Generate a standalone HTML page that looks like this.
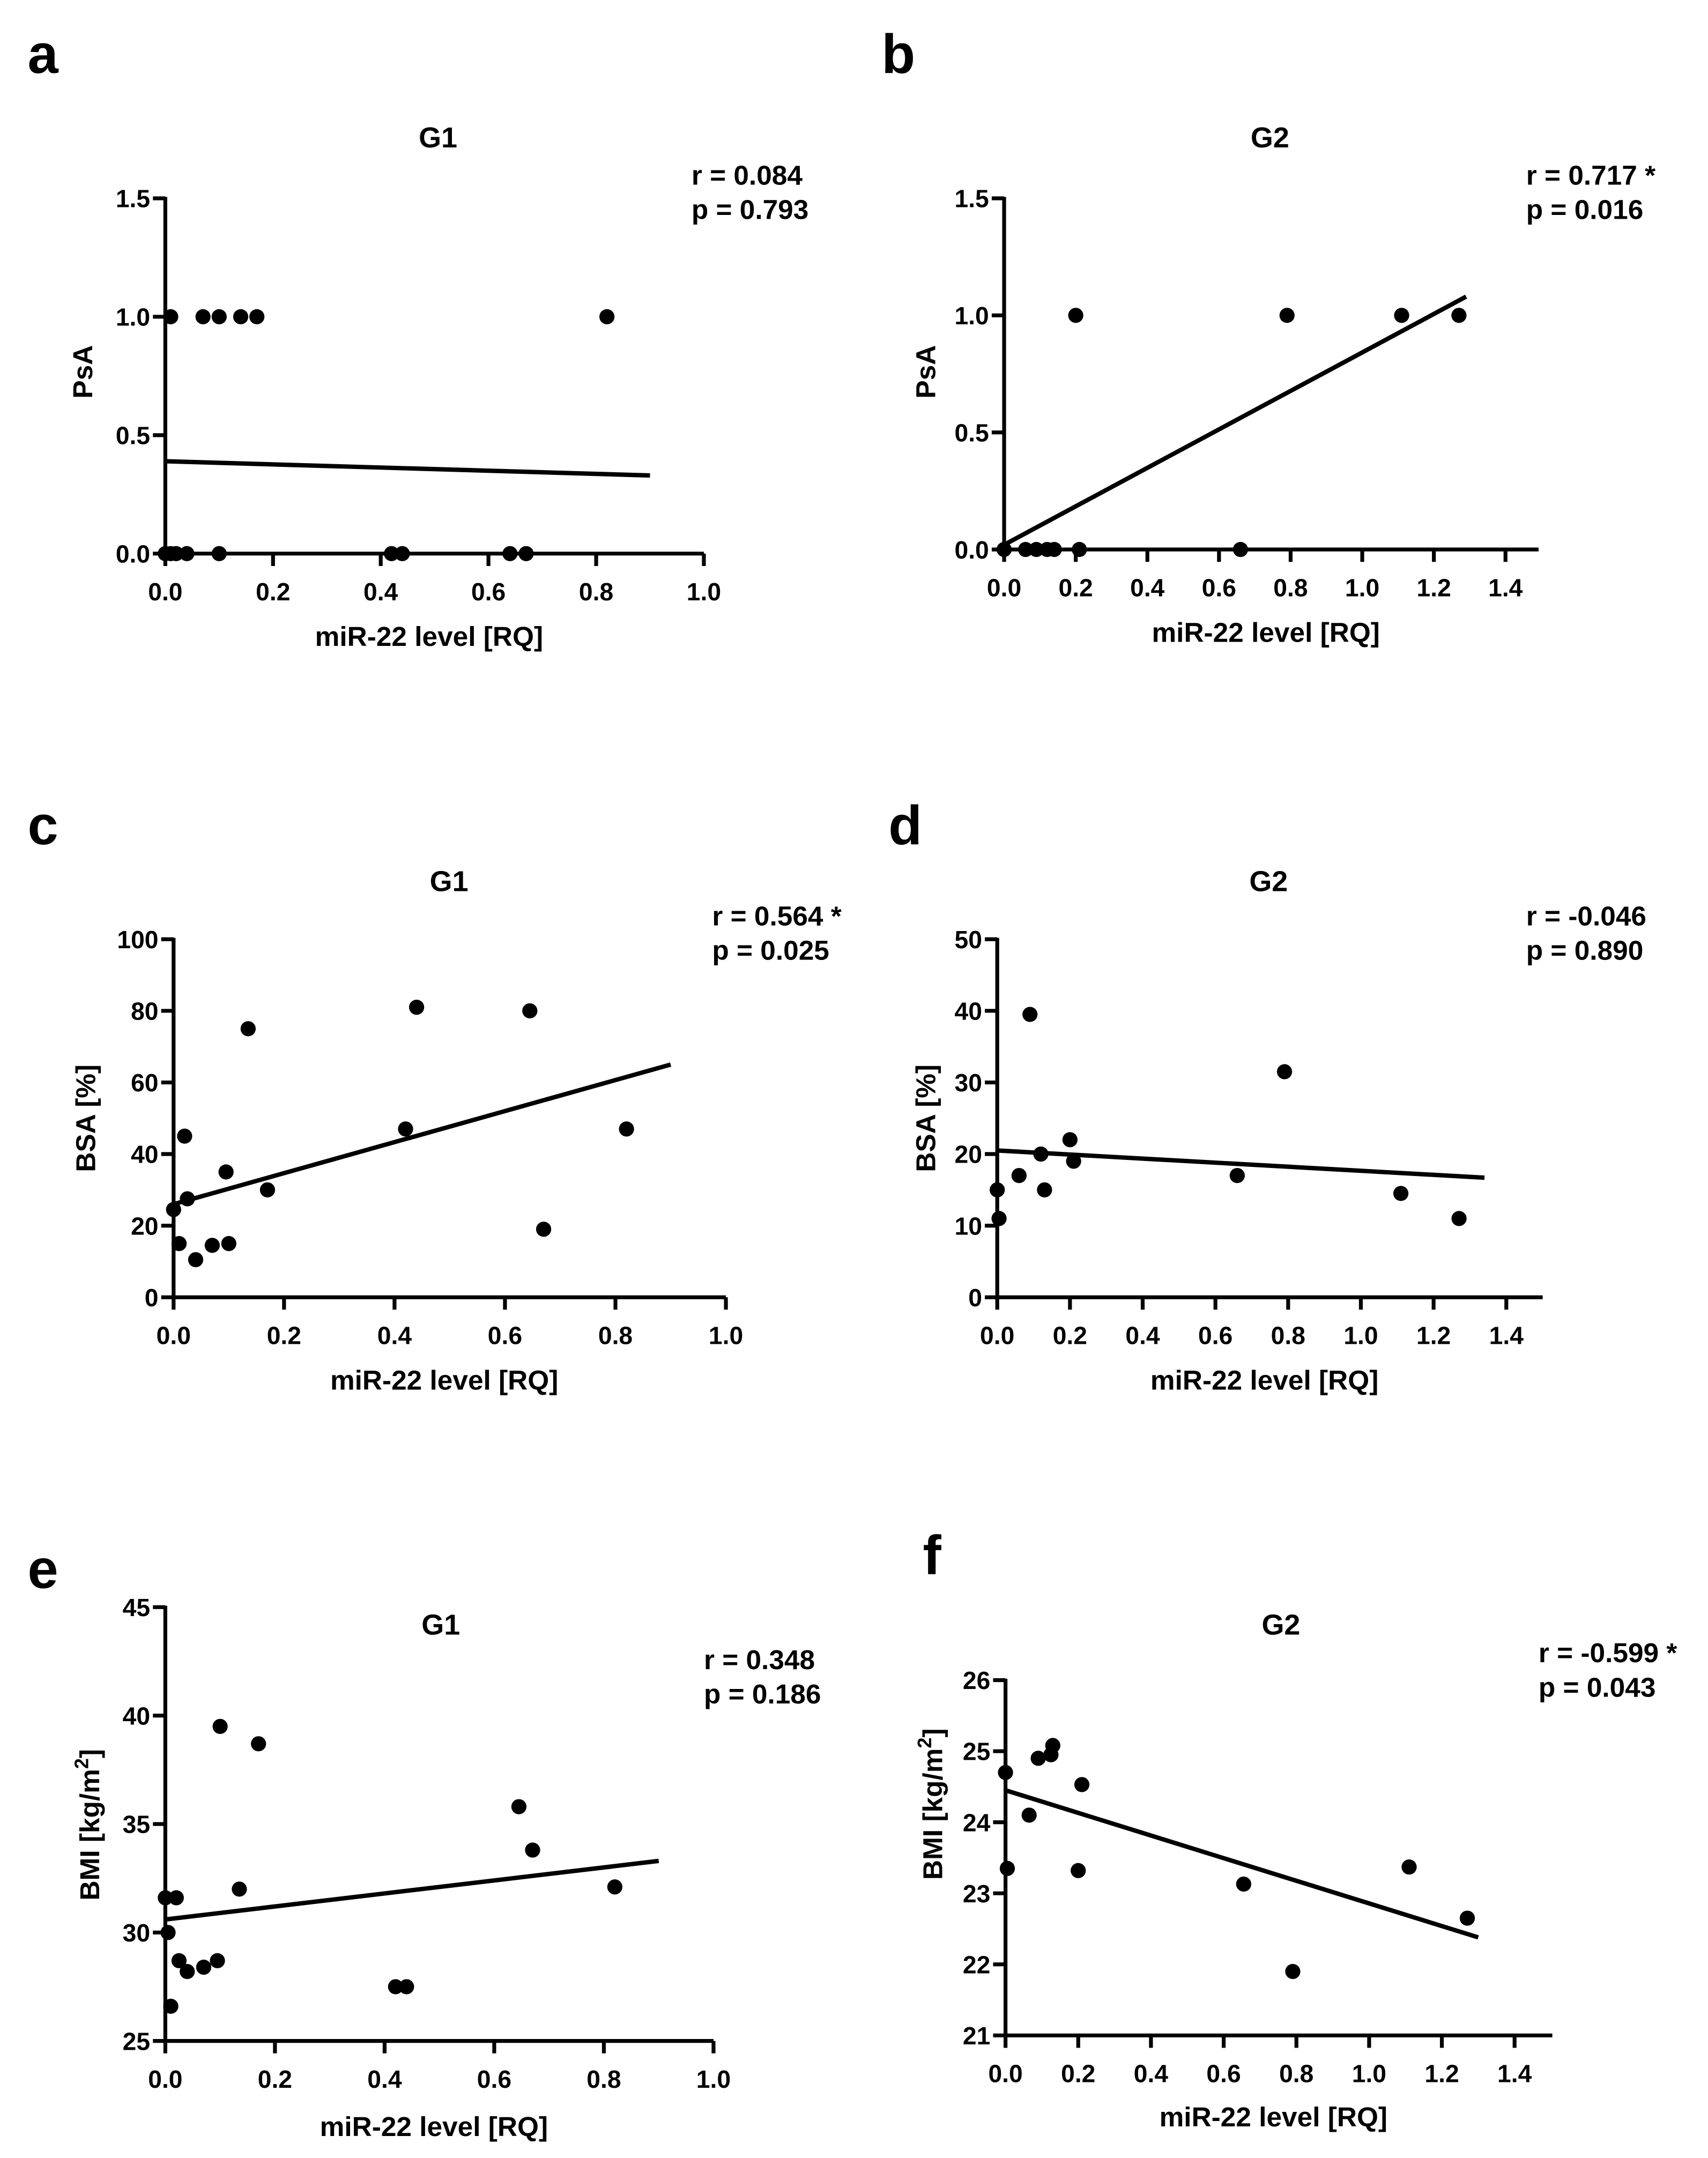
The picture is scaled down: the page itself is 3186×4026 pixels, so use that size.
<!DOCTYPE html>
<html><head><meta charset="utf-8"><style>
html,body{margin:0;padding:0;background:#fff}
svg{display:block}
text{font-family:"Liberation Sans",Arial,sans-serif;font-weight:bold;fill:#000}
</style></head><body>
<svg id="fig" width="3186" height="4026" viewBox="0 0 1240 1567" xmlns="http://www.w3.org/2000/svg"></svg>
<script>
// ---- data ----
const aX=[0.01,0.07,0.1,0.14,0.17,0.82,0.0,0.01,0.02,0.04,0.1,0.42,0.44,0.64,0.67];
const aY=[1,1,1,1,1,1,0,0,0,0,0,0,0,0,0];
const aFit=[0.39,0.33];
const bX=[0.2,0.79,1.11,1.27,0.0,0.06,0.09,0.12,0.14,0.21,0.66];
const bY=[1,1,1,1,0,0,0,0,0,0,0];
const bFit=[0.02,1.08];
const cX=[0.0,0.01,0.02,0.025,0.04,0.07,0.095,0.1,0.135,0.17,0.42,0.44,0.645,0.67,0.82];
const cY=[24.5,15,45,27.5,10.5,14.5,35,15,75,30,47,81,80,19,47];
const cFit=[26,65];
const dX=[0.0,0.005,0.06,0.09,0.12,0.13,0.2,0.21,0.66,0.79,1.11,1.27];
const dY=[15,11,17,39.5,20,15,22,19,17,31.5,14.5,11];
const dFit=[20.5,16.7];
const eX=[0.0,0.005,0.01,0.02,0.025,0.04,0.07,0.095,0.1,0.135,0.17,0.42,0.44,0.645,0.67,0.82];
const eY=[31.6,30,26.6,31.6,28.7,28.2,28.4,28.7,39.5,32,38.7,27.5,27.5,35.8,33.8,32.1];
const eFit=[30.6,33.3];
const fX=[0.0,0.005,0.065,0.09,0.125,0.13,0.2,0.21,0.655,0.79,1.11,1.27];
const fY=[24.7,23.35,24.1,24.9,24.95,25.08,23.32,24.53,23.13,21.9,23.37,22.65];
const fFit=[24.45,22.38];
const ticks1=["0.0","0.2","0.4","0.6","0.8","1.0"];
const ticks14=["0.0","0.2","0.4","0.6","0.8","1.0","1.2","1.4"];
const psaTicks=["0.0","0.5","1.0","1.5"];
const bsaC=["0","20","40","60","80","100"];
const bsaD=["0","10","20","30","40","50"];
const bmiE=["25","30","35","40","45"];
const bmiF=["21","22","23","24","25","26"];

const NS="http://www.w3.org/2000/svg";
const svg=document.getElementById('fig');
function el(tag,attrs,parent,txt){const e=document.createElementNS(NS,tag);for(const k in attrs)e.setAttribute(k,attrs[k]);if(txt!=null)e.textContent=txt;(parent||svg).appendChild(e);return e;}

const panels=[
 {id:'a',letter:[20,53],title:'G1',tpos:[318,107],rp:['r = 0.084','p = 0.793'],rx:502,ry:134,ax:120,y0:402,y1:144,ymin:0,ymax:1.5,yt:psaTicks,xe:511,xmax:1.0,xt:ticks1,xs:391,X:aX,Y:aY,fit:aFit,fitEnd:0.9,ylab:'PsA',ylx:60,yly:270,xty:469},
 {id:'b',letter:[640,53],title:'G2',tpos:[922,107],rp:['r = 0.717 *','p = 0.016'],rx:1108,ry:134,ax:729,y0:399,y1:144,ymin:0,ymax:1.5,yt:psaTicks,xe:1117,xmax:1.5,xt:ticks14,xs:260,X:bX,Y:bY,fit:bFit,fitEnd:1.29,ylab:'PsA',ylx:672,yly:270,xty:466},
 {id:'c',letter:[20,613],title:'G1',tpos:[326,647],rp:['r = 0.564 *','p = 0.025'],rx:517,ry:672,ax:126,y0:942,y1:682,ymin:0,ymax:100,yt:bsaC,xe:527,xmax:1.0,xt:ticks1,xs:401,X:cX,Y:cY,fit:cFit,fitEnd:0.9,ylab:'BSA [%]',ylx:62,yly:812,xty:1009},
 {id:'d',letter:[645,613],title:'G2',tpos:[921,647],rp:['r = -0.046','p = 0.890'],rx:1108,ry:672,ax:724,y0:942,y1:682,ymin:0,ymax:50,yt:bsaD,xe:1120,xmax:1.5,xt:ticks14,xs:264,X:dX,Y:dY,fit:dFit,fitEnd:1.34,ylab:'BSA [%]',ylx:672,yly:812,xty:1009},
 {id:'e',letter:[20,1153],title:'G1',tpos:[320,1187],rp:['r = 0.348','p = 0.186'],rx:511,ry:1212,ax:120,y0:1482,y1:1167,ymin:25,ymax:45,yt:bmiE,xe:518,xmax:1.0,xt:ticks1,xs:398,X:eX,Y:eY,fit:eFit,fitEnd:0.9,ylab:'BMI',ylx:65,yly:1325,xty:1551},
 {id:'f',letter:[670,1143],title:'G2',tpos:[930,1187],rp:['r = -0.599 *','p = 0.043'],rx:1117,ry:1207,ax:730,y0:1478,y1:1220,ymin:21,ymax:26,yt:bmiF,xe:1127,xmax:1.5,xt:ticks14,xs:264,X:fX,Y:fY,fit:fFit,fitEnd:1.3,ylab:'BMI',ylx:677,yly:1310,xty:1544}
];

panels.forEach(p=>{
 const g=el('g',{});
 
 
 const sx=v=>p.ax+v*p.xs;
 const sy=v=>p.y0-(v-p.ymin)/(p.ymax-p.ymin)*(p.y0-p.y1);
 const L=el('text',{x:p.letter[0],y:p.letter[1],'font-size':40},g,p.id);
 
 
 const T=el('text',{x:p.tpos[0],y:p.tpos[1],'font-size':21,'text-anchor':'middle'},g,p.title);
 
 
 p.rp.forEach((s,i)=>{const t=el('text',{x:p.rx,y:p.ry+i*25,'font-size':20},g,s);
  
  });
 const ya=el('line',{x1:p.ax,y1:p.y1-1,x2:p.ax,y2:p.y0+1.2,stroke:'#000','stroke-width':2.8},g);
 
 
 const xa=el('line',{x1:p.ax-1,y1:p.y0,x2:p.xe,y2:p.y0,stroke:'#000','stroke-width':2.8},g);
 
 
 p.yt.forEach(s=>{const v=parseFloat(s),y=sy(v);
  el('line',{x1:p.ax-9,y1:y,x2:p.ax,y2:y,stroke:'#000','stroke-width':2.8},g);
  const t=el('text',{x:p.ax-11,y:y+6.5,'font-size':18,'text-anchor':'end'},g,s);
  
  });
 p.xt.forEach(s=>{const v=parseFloat(s),x=sx(v);
  el('line',{x1:x,y1:p.y0,x2:x,y2:p.y0+9,stroke:'#000','stroke-width':2.8},g);
  const t=el('text',{x:x,y:p.y0+34,'font-size':18,'text-anchor':'middle'},g,s);
  
  });
 const xt=el('text',{x:(p.ax+p.xe)/2-4,y:p.xty,'font-size':20,'text-anchor':'middle'},g,'miR-22 level [RQ]');
 
 
 const yl=el('text',{x:0,y:0,'font-size':20,'text-anchor':'middle',transform:`translate(${p.ylx+7},${p.yly}) rotate(-90)`},g);
 
 
 if(p.ylab==='BMI'){
  el('tspan',{},yl,'BMI [kg/m');
  el('tspan',{'font-size':14,dy:-8},yl,'2');
  el('tspan',{dy:8},yl,']');
 } else yl.textContent=p.ylab;
 p.X.forEach((xv,i)=>{const c=el('circle',{cx:sx(xv),cy:sy(p.Y[i]),r:5.5,fill:'#000'},g);
  
  });
 const fl=el('line',{x1:sx(0),y1:sy(p.fit[0]),x2:sx(p.fitEnd),y2:sy(p.fit[1]),stroke:'#000','stroke-width':3.2},g);
 
 
});
</script>
</body></html>
